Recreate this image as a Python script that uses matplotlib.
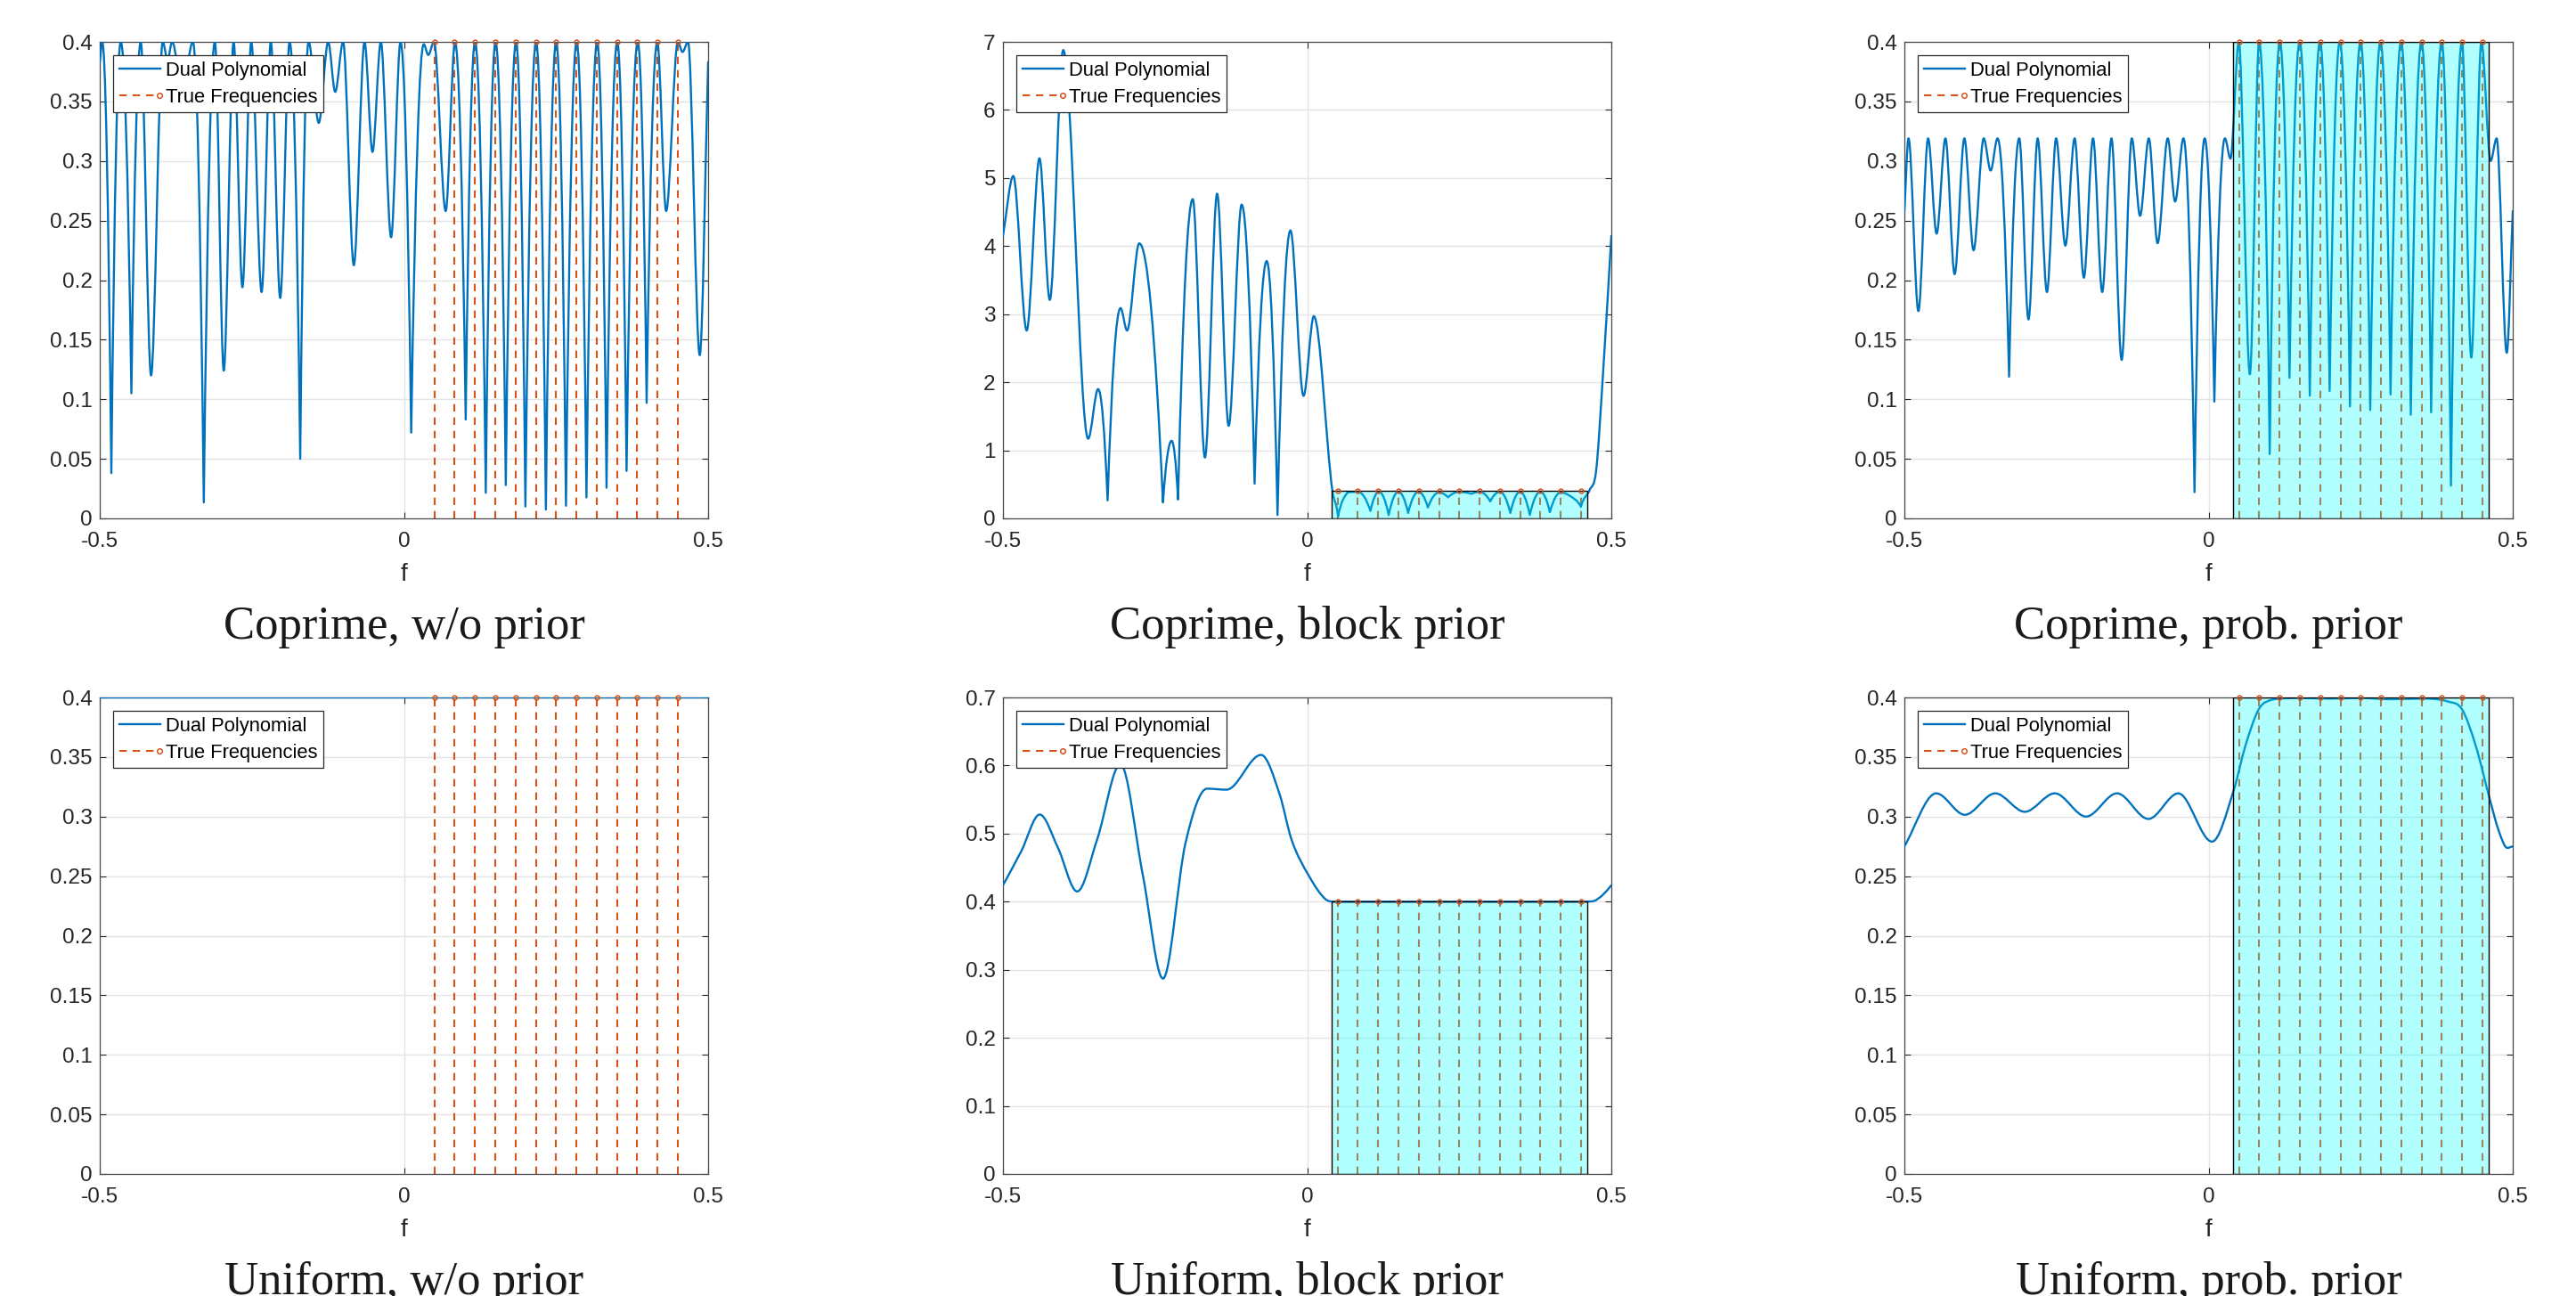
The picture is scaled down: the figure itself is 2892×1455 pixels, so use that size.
import numpy as np
import matplotlib
matplotlib.use("Agg")
import matplotlib.pyplot as plt
from matplotlib.path import Path
from matplotlib.patches import PathPatch, Rectangle
from matplotlib.lines import Line2D
from matplotlib.legend_handler import HandlerBase

plt.rcParams['font.family'] = ['Liberation Sans', 'DejaVu Sans']
plt.rcParams['axes.unicode_minus'] = False

# ---------------- data ----------------
true_freqs = [0.05, 0.0833, 0.1167, 0.15, 0.1833, 0.2167, 0.25, 0.2833,
              0.3167, 0.35, 0.3833, 0.4167, 0.45]
stem_height = 0.4
block_range = [0.04, 0.46]
block_height = 0.4

# Coprime, w/o prior
cw_f = [-0.5, -0.496, -0.481, -0.4655, -0.448, -0.4326, -0.4157, -0.3965, -0.3885, -0.381,
        -0.364, -0.347, -0.329, -0.3107, -0.2962, -0.280, -0.2655, -0.251, -0.234, -0.2188,
        -0.2034, -0.188, -0.1705, -0.1567, -0.140, -0.1245, -0.113, -0.100, -0.0824, -0.0648,
        -0.0517, -0.038, -0.0211, -0.0057, 0.0119, 0.0326, 0.040, 0.0494, 0.0686, 0.0839,
        0.1015, 0.1169, 0.1345, 0.1506, 0.1674, 0.1843, 0.1996, 0.2172, 0.2333, 0.2502,
        0.2663, 0.2839, 0.300, 0.3176, 0.333, 0.3506, 0.3659, 0.3843, 0.3989, 0.4165,
        0.431, 0.4502, 0.4579, 0.467, 0.4862, 0.5]
cw_v = [0.383, 0.4, 0.038, 0.4, 0.105, 0.4, 0.12, 0.4, 0.385, 0.4,
        0.36, 0.4, 0.0134, 0.4, 0.124, 0.4, 0.194, 0.4, 0.19, 0.4,
        0.185, 0.4, 0.05, 0.4, 0.332, 0.4, 0.358, 0.4, 0.2125, 0.4,
        0.3076, 0.4, 0.236, 0.4, 0.072, 0.398, 0.389, 0.4, 0.258, 0.4,
        0.083, 0.4, 0.0215, 0.4, 0.028, 0.4, 0.01, 0.4, 0.0074, 0.4,
        0.0106, 0.4, 0.0176, 0.4, 0.0257, 0.4, 0.0398, 0.4, 0.097, 0.4,
        0.258, 0.4, 0.3915, 0.4, 0.137, 0.383]

# Coprime, block prior
cb_f = [-0.5, -0.483, -0.461, -0.440, -0.423, -0.401, -0.360, -0.3436, -0.328, -0.3067,
        -0.296, -0.276, -0.237, -0.2228, -0.2122, -0.188, -0.168, -0.148, -0.129, -0.1077,
        -0.0864, -0.0665, -0.0487, -0.0274, -0.006, 0.011, 0.0416, 0.0508, 0.0665, 0.0833,
        0.104, 0.118, 0.134, 0.150, 0.166, 0.183, 0.1985, 0.2167, 0.2315, 0.25,
        0.2700, 0.2833, 0.301, 0.3167, 0.334, 0.35, 0.366, 0.3833, 0.399, 0.4167,
        0.432, 0.45, 0.4645, 0.475, 0.4858, 0.5]
cb_v = [4.15, 5.03, 2.76, 5.29, 3.21, 6.88, 1.17, 1.90, 0.265, 3.09,
        2.76, 4.04, 0.234, 1.14, 0.278, 4.69, 0.894, 4.77, 1.36, 4.61,
        0.51, 3.78, 0.05, 4.23, 1.80, 2.97, 0.40, 0.03, 0.38, 0.39,
        0.11, 0.39, 0.05, 0.39, 0.08, 0.39, 0.16, 0.38, 0.31, 0.39,
        0.36, 0.39, 0.25, 0.39, 0.08, 0.39, 0.05, 0.39, 0.09, 0.38,
        0.33, 0.17, 0.42, 0.70, 2.05, 4.15]

# Coprime, prob. prior
cp_f = [-0.5, -0.4932, -0.477, -0.461, -0.447, -0.4325, -0.4174, -0.4014, -0.3863, -0.3696,
        -0.3582, -0.3469, -0.3279, -0.3112, -0.296, -0.2809, -0.2657, -0.2506, -0.2354, -0.2202,
        -0.205, -0.1899, -0.1748, -0.1596, -0.1429, -0.1262, -0.1126, -0.0982, -0.0838, -0.0671,
        -0.055, -0.0413, -0.0231, -0.0064, 0.0095, 0.0269, 0.036, 0.0497, 0.0679, 0.083,
        0.1005, 0.1171, 0.133, 0.1497, 0.1664, 0.1831, 0.199, 0.2157, 0.2324, 0.2498,
        0.2657, 0.2824, 0.2991, 0.3165, 0.3324, 0.3499, 0.3658, 0.3832, 0.3984, 0.4166,
        0.4318, 0.4484, 0.4636, 0.4735, 0.4901, 0.5]
cp_v = [0.258, 0.319, 0.174, 0.319, 0.239, 0.319, 0.205, 0.319, 0.225, 0.319,
        0.292, 0.319, 0.119, 0.319, 0.167, 0.319, 0.19, 0.319, 0.229, 0.319,
        0.202, 0.319, 0.19, 0.319, 0.133, 0.319, 0.254, 0.319, 0.231, 0.319,
        0.266, 0.319, 0.022, 0.319, 0.098, 0.319, 0.302, 0.40, 0.121, 0.40,
        0.054, 0.40, 0.118, 0.40, 0.103, 0.40, 0.107, 0.40, 0.094, 0.40,
        0.091, 0.40, 0.104, 0.40, 0.087, 0.40, 0.089, 0.40, 0.0275, 0.40,
        0.135, 0.40, 0.30, 0.319, 0.139, 0.258]

# Uniform, w/o prior
uw_f = [-0.5, 0.0, 0.5]
uw_v = [0.4, 0.4, 0.4]

# Uniform, block prior
ub_f = [-0.5, -0.47, -0.4396, -0.41, -0.378, -0.345, -0.307, -0.27, -0.237, -0.20,
        -0.1645, -0.1325, -0.0757, -0.045, -0.026, 0.0025, 0.031, 0.045, 0.10, 0.20,
        0.30, 0.40, 0.455, 0.4716, 0.486, 0.5]
ub_v = [0.424, 0.474, 0.528, 0.48, 0.415, 0.492, 0.602, 0.4385, 0.287, 0.486,
        0.566, 0.5645, 0.6156, 0.557, 0.492, 0.4385, 0.403, 0.400, 0.400, 0.400,
        0.400, 0.400, 0.400, 0.401, 0.41, 0.424]

# Uniform, prob. prior
up_f = [-0.5, -0.4477, -0.4007, -0.3506, -0.3021, -0.2528, -0.2013, -0.1505, -0.0989, -0.0497,
        0.0057, 0.0413, 0.0603, 0.083, 0.1058, 0.15, 0.20, 0.25, 0.30, 0.35,
        0.3939, 0.4166, 0.4394, 0.462, 0.477, 0.491, 0.5]
up_v = [0.275, 0.3195, 0.3015, 0.3195, 0.304, 0.3195, 0.300, 0.3195, 0.298, 0.3195,
        0.279, 0.322, 0.359, 0.3905, 0.3983, 0.3995, 0.399, 0.3995, 0.3985, 0.399,
        0.3965, 0.39, 0.359, 0.315, 0.288, 0.2737, 0.275]

titles = ["Coprime, w/o prior", "Coprime, block prior", "Coprime, prob. prior",
          "Uniform, w/o prior", "Uniform, block prior", "Uniform, prob. prior"]
curves_f = [cw_f, cb_f, cp_f, uw_f, ub_f, up_f]
curves_v = [cw_v, cb_v, cp_v, uw_v, ub_v, up_v]
priors = [None, "block", "prob", None, "block", "prob"]
ymaxes = [0.4, 7, 0.4, 0.4, 0.7, 0.4]
yticks_list = [
    [0, 0.05, 0.1, 0.15, 0.2, 0.25, 0.3, 0.35, 0.4],
    [0, 1, 2, 3, 4, 5, 6, 7],
    [0, 0.05, 0.1, 0.15, 0.2, 0.25, 0.3, 0.35, 0.4],
    [0, 0.05, 0.1, 0.15, 0.2, 0.25, 0.3, 0.35, 0.4],
    [0, 0.1, 0.2, 0.3, 0.4, 0.5, 0.6, 0.7],
    [0, 0.05, 0.1, 0.15, 0.2, 0.25, 0.3, 0.35, 0.4],
]
ytick_labels_list = [
    ["0", "0.05", "0.1", "0.15", "0.2", "0.25", "0.3", "0.35", "0.4"],
    ["0", "1", "2", "3", "4", "5", "6", "7"],
    ["0", "0.05", "0.1", "0.15", "0.2", "0.25", "0.3", "0.35", "0.4"],
    ["0", "0.05", "0.1", "0.15", "0.2", "0.25", "0.3", "0.35", "0.4"],
    ["0", "0.1", "0.2", "0.3", "0.4", "0.5", "0.6", "0.7"],
    ["0", "0.05", "0.1", "0.15", "0.2", "0.25", "0.3", "0.35", "0.4"],
]
xticks = [-0.5, 0, 0.5]
xtick_labels = ["-0.5", "0", "0.5"]

# ---------------- style ----------------
C_BLUE = "#0072BD"
C_ORANGE = "#D95319"
C_TEXT = "#262626"
DASH = (0, (4, 3.2))
W, H = 2892, 1455


def smooth_path(x, y, sharp_below):
    """Monotone cubic (Bezier) rendering through the read points."""
    x = np.asarray(x, float)
    y = np.asarray(y, float)
    n = len(x)
    d = np.diff(y) / np.diff(x)
    mL = np.zeros(n)
    mR = np.zeros(n)
    for i in range(n):
        if i == 0:
            mL[i] = mR[i] = d[0]
        elif i == n - 1:
            mL[i] = mR[i] = d[-1]
        else:
            a, b = d[i - 1], d[i]
            if a * b <= 0:
                if a < 0 and b > 0 and y[i] < sharp_below:
                    mL[i] = 2 * a
                    mR[i] = 2 * b
                else:
                    mL[i] = mR[i] = 0.0
            else:
                mL[i] = mR[i] = 0.5 * (a + b)
    for i in range(n - 1):
        if d[i] == 0:
            mR[i] = 0.0
            mL[i + 1] = 0.0
            continue
        al = mR[i] / d[i]
        be = mL[i + 1] / d[i]
        s = al * al + be * be
        if s > 9:
            t = 3.0 / np.sqrt(s)
            mR[i] = t * al * d[i]
            mL[i + 1] = t * be * d[i]
    verts = [(x[0], y[0])]
    codes = [Path.MOVETO]
    for i in range(n - 1):
        h = x[i + 1] - x[i]
        verts += [(x[i] + h / 3, y[i] + mR[i] * h / 3),
                  (x[i + 1] - h / 3, y[i + 1] - mL[i + 1] * h / 3),
                  (x[i + 1], y[i + 1])]
        codes += [Path.CURVE4] * 3
    return Path(verts, codes)


class StemHandler(HandlerBase):
    def create_artists(self, legend, orig_handle, xdescent, ydescent, width,
                       height, fontsize, trans):
        yc = (height - ydescent) / 2.0
        x0, x1 = -xdescent, -xdescent + width
        ln = Line2D([x0, x1 - 3], [yc, yc], color=C_ORANGE, lw=1.5, linestyle=DASH)
        mk = Line2D([x1 - 1], [yc], color=C_ORANGE, marker='o', ms=4,
                    mfc='white', mew=1.1, linestyle='none')
        ln.set_transform(trans)
        mk.set_transform(trans)
        return [ln, mk]


fig = plt.figure(figsize=(W / 100, H / 100), dpi=100)

col_left = [112, 1126, 2138]
row_top = [47, 783]
ax_w, ax_h = 683, 535
title_baseline = [717, 1453]

for k in range(6):
    r, c = divmod(k, 3)
    left = col_left[c] / W
    bottom = 1 - (row_top[r] + ax_h) / H
    ax = fig.add_axes([left, bottom, ax_w / W, ax_h / H])
    ymax = ymaxes[k]

    ax.set_xlim(-0.5, 0.5)
    ax.set_ylim(0, ymax)
    ax.set_xticks(xticks)
    ax.set_xticklabels(xtick_labels)
    ax.set_yticks(yticks_list[k])
    ax.set_yticklabels(ytick_labels_list[k])
    ax.grid(True, color="#e4e4e4", lw=1.0)
    ax.set_axisbelow(True)
    ax.tick_params(direction='in', top=True, right=True, length=5, width=0.8,
                   color=C_TEXT, labelsize=17.6, labelcolor=C_TEXT)
    ax.tick_params(axis='x', pad=11)
    ax.tick_params(axis='y', pad=6)
    for sp in ax.spines.values():
        sp.set_color("#4a4a4a")
        sp.set_linewidth(0.9)
    ax.set_xlabel("f", fontsize=20, color=C_TEXT, labelpad=9)

    # true-frequency stems
    ax.vlines(true_freqs, 0, stem_height, colors=C_ORANGE, linestyles=DASH,
              lw=1.5, zorder=2)
    ax.plot(true_freqs, [stem_height] * len(true_freqs), linestyle='none',
            marker='o', ms=3.5, mfc='none', mec=C_ORANGE, mew=1.1, zorder=6,
            clip_on=False)

    # dual polynomial curve
    path = smooth_path(curves_f[k], curves_v[k], 0.3 * ymax if k != 1 else 0.6)
    ax.add_patch(PathPatch(path, facecolor='none', edgecolor=C_BLUE, lw=1.7,
                           zorder=3, joinstyle='round', capstyle='round'))

    # prior region
    if priors[k] is not None:
        ax.add_patch(Rectangle((block_range[0], 0), block_range[1] - block_range[0],
                               block_height, facecolor=(0, 1, 1, 0.3),
                               edgecolor='black', lw=1.0, zorder=4))

    h1 = Line2D([], [], color=C_BLUE, lw=1.7)
    h2 = Line2D([], [], color=C_ORANGE)
    leg = ax.legend([h1, h2], ["Dual Polynomial", "True Frequencies"],
                    loc='upper left', fontsize=15.8, frameon=True, fancybox=False,
                    framealpha=1, edgecolor=C_TEXT, borderpad=0.3,
                    labelspacing=0.4, handlelength=2.1, handletextpad=0.25,
                    borderaxespad=0.7, handler_map={h2: StemHandler()})
    leg.get_frame().set_linewidth(0.9)
    leg.set_zorder(10)
    for t in leg.get_texts():
        t.set_color("black")

    cx = (col_left[c] + ax_w / 2) / W
    fig.text(cx, 1 - title_baseline[r] / H, titles[k], ha='center', va='baseline',
             fontsize=38, family=['Liberation Serif', 'DejaVu Serif'], color="#1a1a1a")

fig.savefig("out.png", dpi=100)
